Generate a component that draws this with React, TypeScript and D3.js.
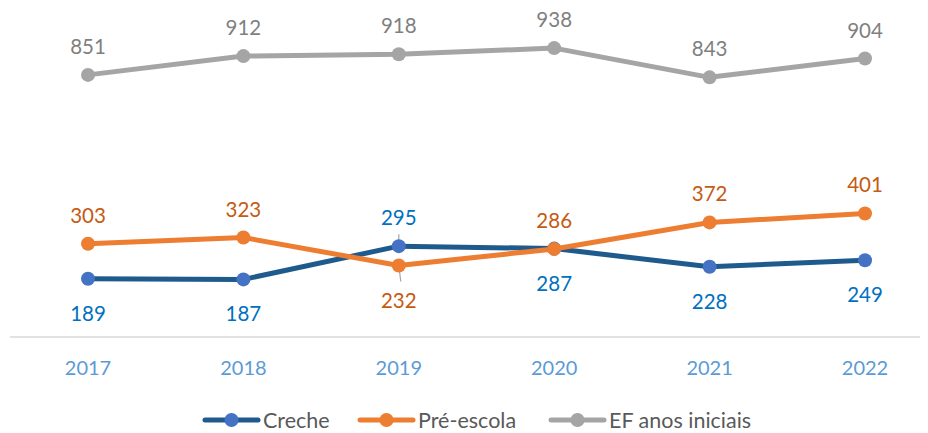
import React from "react";
import * as d3 from "d3";

const years = ["2017", "2018", "2019", "2020", "2021", "2022"];
const creche = [189, 187, 295, 287, 228, 249];
const preEscola = [303, 323, 232, 286, 372, 401];
const efIniciais = [851, 912, 918, 938, 843, 904];
// label placement: 1 = above, -1 = below
const crechePos = [-1, -1, 1, -1, -1, -1];
const prePos = [1, 1, -1, 1, 1, 1];
const efPos = [1, 1, 1, 1, 1, 1];

const W = 928;
const H = 433;
const FONT = "Lato, 'Open Sans', sans-serif";

export default function App() {
  const x = d3.scalePoint<string>().domain(years).range([88, 865]);
  const y = d3.scaleLinear().domain([0, 1000]).range([337, 29]);
  const line = d3
    .line<number>()
    .x((_, i) => x(years[i]) as number)
    .y((d) => y(d));

  const series = [
    { name: "Creche", data: creche, pos: crechePos, line: "#1F5A8C", marker: "#4472C4", label: "#0070C0" },
    { name: "Pré-escola", data: preEscola, pos: prePos, line: "#ED7D31", marker: "#ED7D31", label: "#C55A11" },
    { name: "EF anos iniciais", data: efIniciais, pos: efPos, line: "#A5A5A5", marker: "#A5A5A5", label: "#7F7F7F" },
  ];

  const legendX = [205, 360, 551];

  return (
    <svg width={W} height={H} style={{ position: "absolute", left: 0, top: 0 }} fontFamily={FONT}>
      <rect width={W} height={H} fill="#fff" />
      <line x1={10} x2={920} y1={y(0)} y2={y(0)} stroke="#D9D9D9" strokeWidth={1.5} />
      {years.map((yr) => (
        <text key={yr} x={x(yr)} y={375} textAnchor="middle" fontSize={20} fill="#5B9BD5">
          {yr}
        </text>
      ))}
      {/* leader lines at 2019 */}
      <line x1={x("2019")} x2={x("2019")} y1={y(295) - 12} y2={y(295)} stroke="#A6A6A6" strokeWidth={1.2} />
      <line x1={x("2019")} x2={(x("2019") as number) + 2} y1={y(232)} y2={y(232) + 16} stroke="#A6A6A6" strokeWidth={1.2} />
      {series.map((s) => (
        <g key={s.name}>
          <path d={line(s.data) || ""} fill="none" stroke={s.line} strokeWidth={5} strokeLinejoin="round" strokeLinecap="round" />
          {s.data.map((v, i) => (
            <circle key={i} cx={x(years[i])} cy={y(v)} r={7} fill={s.marker} />
          ))}
          {s.data.map((v, i) => (
            <text
              key={"t" + i}
              x={x(years[i])}
              y={s.pos[i] > 0 ? y(v) - 21 : y(v) + 42}
              textAnchor="middle"
              fontSize={20.5}
              fill={s.label}
            >
              {v}
            </text>
          ))}
        </g>
      ))}
      {series.map((s, i) => (
        <g key={"lg" + i} transform={`translate(${legendX[i]},420)`}>
          <line x1={0} x2={53} y1={0} y2={0} stroke={s.line} strokeWidth={5} strokeLinecap="round" />
          <circle cx={26.5} cy={0} r={7} fill={s.marker} />
          <text x={58} y={7.5} fontSize={21.5} fill="#595959">
            {s.name}
          </text>
        </g>
      ))}
    </svg>
  );
}
